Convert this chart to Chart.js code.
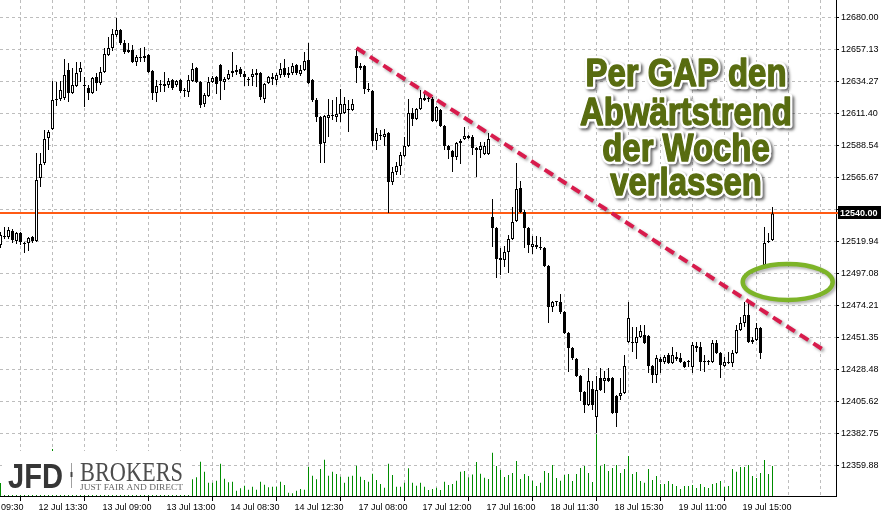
<!DOCTYPE html>
<html lang="de">
<head>
<meta charset="UTF-8">
<title>DAX M15 - Gap über den Abwärtstrend</title>
<script src="https://cdn.jsdelivr.net/npm/chart.js@4.4.1/dist/chart.umd.min.js"></script>
<style>
  body { margin: 0; background: #fff; }
  #wrap { position: relative; width: 881px; height: 516px; }
</style>
</head>
<body>
<div id="wrap"><canvas id="daxChart"></canvas></div>
<script>
// 15-Minuten-Kerzen, Index 0 = erste (angeschnittene) Kerze links
const opens = [
  12517.5, 12523.2, 12523.2, 12527.5, 12520.3, 12526.0, 12518.9, 12518.9, 12523.2, 12520.3,
  12565.3, 12576.0, 12593.9, 12600.3, 12621.1, 12621.8, 12622.5, 12642.5, 12626.1, 12631.1,
  12641.1, 12631.1, 12629.6, 12626.1, 12637.5, 12633.2, 12641.1, 12653.2, 12658.2, 12667.5,
  12671.1, 12661.8, 12656.8, 12656.8, 12648.2, 12651.8, 12651.1, 12653.2, 12641.8, 12626.1,
  12631.8, 12632.5, 12631.8, 12635.3, 12631.8, 12635.3, 12628.2, 12626.8, 12634.6, 12643.9,
  12633.9, 12618.2, 12623.9, 12633.9, 12637.5, 12646.1, 12633.9, 12636.1, 12640.3, 12642.5,
  12643.2, 12639.6, 12635.3, 12637.5, 12638.9, 12640.3, 12621.8, 12633.2, 12637.5, 12635.3,
  12638.9, 12643.9, 12640.3, 12640.3, 12646.1, 12639.6, 12642.5, 12649.6, 12635.3, 12621.1,
  12608.9, 12590.3, 12608.2, 12609.6, 12608.9, 12611.1, 12611.8, 12613.9, 12613.9, 12652.5,
  12645.3, 12645.3, 12628.9, 12627.5, 12591.8, 12595.3, 12594.6, 12597.5, 12562.5, 12569.6,
  12573.9, 12581.0, 12588.2, 12611.8, 12607.5, 12614.6, 12621.1, 12622.5, 12621.8, 12606.1,
  12613.9, 12602.5, 12588.2, 12584.6, 12580.3, 12590.3, 12593.2, 12595.3, 12594.6, 12586.8,
  12585.3, 12582.5, 12582.5, 12537.5, 12529.6, 12506.7, 12506.7, 12512.5, 12521.7, 12534.6,
  12558.2, 12541.0, 12529.6, 12516.0, 12517.5, 12516.0, 12515.3, 12502.4, 12473.2, 12476.7,
  12476.7, 12469.6, 12454.6, 12443.9, 12436.0, 12423.9, 12412.4, 12403.1, 12414.6, 12394.6,
  12422.4, 12420.3, 12422.4, 12422.4, 12409.6, 12409.6, 12411.7, 12448.1, 12448.1, 12447.4,
  12451.7, 12453.1, 12452.4, 12431.0, 12424.6, 12436.0, 12433.9, 12438.9, 12433.1, 12437.4,
  12436.7, 12433.9, 12433.9, 12430.3, 12445.3, 12444.6, 12433.9, 12433.9, 12433.9, 12447.4,
  12440.3, 12431.0, 12433.9, 12433.1, 12440.3, 12456.7, 12461.7, 12467.4, 12449.6, 12449.6,
  12458.1, 12503.2, 12519.6, 12521.0
];
const highs = [
  12526.7, 12530.3, 12530.3, 12528.9, 12526.7, 12526.7, 12519.6, 12523.2, 12523.9, 12583.2,
  12583.2, 12599.6, 12599.6, 12634.6, 12633.9, 12634.6, 12650.3, 12647.5, 12643.9, 12648.2,
  12648.2, 12637.5, 12631.8, 12637.5, 12640.3, 12644.6, 12658.2, 12666.1, 12671.8, 12679.6,
  12671.8, 12663.9, 12661.8, 12660.3, 12653.2, 12658.2, 12658.9, 12653.9, 12642.5, 12635.3,
  12635.3, 12641.1, 12636.8, 12636.1, 12635.3, 12636.1, 12629.6, 12638.9, 12647.5, 12644.6,
  12634.6, 12626.1, 12637.5, 12638.2, 12638.2, 12646.8, 12637.5, 12642.5, 12655.3, 12646.1,
  12644.6, 12641.8, 12637.5, 12643.2, 12643.2, 12641.1, 12633.2, 12638.2, 12640.3, 12640.3,
  12647.5, 12650.3, 12644.6, 12647.5, 12646.8, 12646.1, 12655.3, 12661.8, 12636.1, 12622.5,
  12609.6, 12610.3, 12621.8, 12621.1, 12623.2, 12628.9, 12623.2, 12621.1, 12621.8, 12658.2,
  12647.5, 12646.1, 12633.2, 12628.2, 12601.0, 12599.6, 12600.3, 12598.2, 12573.2, 12576.8,
  12583.9, 12594.6, 12621.8, 12615.3, 12615.3, 12628.2, 12626.1, 12623.9, 12623.2, 12616.8,
  12614.6, 12603.2, 12588.9, 12585.3, 12591.0, 12593.2, 12601.8, 12596.0, 12596.0, 12587.5,
  12591.0, 12591.0, 12597.5, 12550.3, 12530.3, 12515.3, 12516.7, 12524.6, 12544.6, 12576.0,
  12563.2, 12542.5, 12530.3, 12523.9, 12523.9, 12523.2, 12516.0, 12503.2, 12477.4, 12477.4,
  12482.4, 12470.3, 12455.3, 12444.6, 12436.7, 12424.6, 12413.1, 12429.6, 12420.3, 12423.9,
  12429.6, 12427.4, 12429.6, 12423.1, 12410.3, 12422.4, 12438.9, 12476.7, 12458.9, 12458.9,
  12460.3, 12460.3, 12453.1, 12431.7, 12438.9, 12437.4, 12438.9, 12440.3, 12444.6, 12441.0,
  12440.3, 12434.6, 12435.3, 12448.1, 12448.1, 12448.1, 12438.9, 12435.3, 12449.6, 12449.6,
  12441.0, 12437.4, 12441.0, 12442.4, 12460.3, 12466.0, 12476.7, 12476.7, 12451.7, 12461.7,
  12458.9, 12530.3, 12526.0, 12544.6
];
const lows = [
  12515.3, 12521.7, 12521.7, 12518.9, 12518.2, 12517.5, 12511.7, 12513.2, 12518.9, 12519.6,
  12558.9, 12574.6, 12585.3, 12599.6, 12616.8, 12620.3, 12621.1, 12619.6, 12625.3, 12630.3,
  12633.9, 12616.1, 12621.1, 12625.3, 12627.5, 12631.8, 12640.3, 12652.5, 12656.1, 12666.1,
  12660.3, 12653.9, 12654.6, 12647.5, 12645.3, 12648.2, 12648.2, 12640.3, 12621.1, 12619.6,
  12626.8, 12626.8, 12629.6, 12628.2, 12630.3, 12626.1, 12623.2, 12623.2, 12633.9, 12633.2,
  12615.3, 12616.1, 12623.2, 12633.2, 12625.3, 12621.1, 12628.2, 12635.3, 12637.5, 12638.9,
  12637.5, 12631.1, 12631.1, 12631.1, 12630.3, 12621.1, 12618.9, 12632.5, 12631.8, 12631.8,
  12636.8, 12637.5, 12636.8, 12638.9, 12638.9, 12638.2, 12641.8, 12632.5, 12619.6, 12605.3,
  12576.0, 12576.0, 12594.6, 12606.8, 12605.3, 12605.3, 12611.1, 12598.2, 12613.2, 12633.2,
  12642.5, 12625.3, 12626.8, 12588.2, 12585.3, 12592.5, 12588.2, 12540.3, 12560.3, 12567.5,
  12567.5, 12580.3, 12587.5, 12602.5, 12606.8, 12613.9, 12620.3, 12619.6, 12605.3, 12605.3,
  12601.8, 12585.3, 12578.9, 12569.6, 12578.2, 12575.3, 12592.5, 12593.2, 12581.8, 12566.0,
  12579.6, 12581.8, 12581.8, 12516.0, 12493.9, 12496.0, 12501.7, 12497.4, 12521.0, 12533.9,
  12540.3, 12515.3, 12511.7, 12511.0, 12514.6, 12513.9, 12501.7, 12461.7, 12469.6, 12473.9,
  12468.2, 12453.9, 12426.7, 12435.3, 12423.1, 12406.0, 12397.4, 12402.4, 12399.6, 12383.1,
  12413.1, 12411.7, 12419.6, 12396.7, 12387.4, 12406.7, 12411.0, 12447.4, 12441.0, 12436.0,
  12451.0, 12446.7, 12426.0, 12418.9, 12418.9, 12426.0, 12432.4, 12432.4, 12432.4, 12434.6,
  12433.1, 12429.6, 12430.3, 12426.0, 12441.0, 12427.4, 12426.7, 12431.7, 12433.1, 12439.6,
  12422.4, 12430.3, 12432.4, 12430.3, 12439.6, 12456.0, 12458.9, 12447.4, 12446.7, 12448.9,
  12436.0, 12500.3, 12518.9, 12520.3
];
const closes = [
  12524.6, 12523.9, 12528.2, 12521.0, 12526.0, 12519.6, 12518.2, 12522.5, 12520.3, 12563.9,
  12575.3, 12593.2, 12598.2, 12621.1, 12621.8, 12628.2, 12638.9, 12626.1, 12631.8, 12640.3,
  12643.9, 12631.1, 12626.1, 12636.8, 12633.2, 12641.1, 12653.9, 12658.2, 12668.2, 12671.1,
  12661.8, 12655.3, 12655.3, 12648.2, 12651.8, 12651.1, 12652.5, 12641.1, 12626.1, 12631.1,
  12632.5, 12631.1, 12634.6, 12629.6, 12634.6, 12627.5, 12627.5, 12635.3, 12643.2, 12633.9,
  12617.5, 12624.6, 12633.9, 12636.8, 12632.5, 12634.6, 12636.1, 12639.6, 12641.8, 12641.1,
  12639.6, 12637.5, 12635.3, 12639.6, 12640.3, 12623.2, 12632.5, 12637.5, 12636.1, 12638.9,
  12643.2, 12638.9, 12638.9, 12645.3, 12640.3, 12642.5, 12648.9, 12633.2, 12621.1, 12608.9,
  12589.6, 12609.6, 12610.3, 12610.3, 12611.1, 12618.2, 12618.2, 12613.9, 12618.2, 12643.9,
  12643.9, 12628.9, 12628.2, 12591.8, 12597.5, 12596.0, 12596.8, 12562.5, 12569.6, 12573.9,
  12581.8, 12588.2, 12611.8, 12607.5, 12614.6, 12622.5, 12622.5, 12621.8, 12606.1, 12616.1,
  12602.5, 12588.2, 12585.3, 12580.3, 12590.3, 12591.8, 12595.3, 12593.9, 12586.8, 12585.3,
  12588.2, 12588.2, 12593.2, 12529.6, 12507.4, 12508.2, 12512.5, 12521.7, 12533.9, 12557.5,
  12541.0, 12529.6, 12517.5, 12518.2, 12516.0, 12515.3, 12502.4, 12473.2, 12476.7, 12476.7,
  12469.6, 12454.6, 12443.9, 12436.7, 12423.9, 12412.4, 12403.1, 12420.3, 12403.1, 12413.8,
  12413.8, 12422.4, 12420.3, 12397.4, 12397.4, 12411.7, 12431.0, 12465.3, 12447.4, 12451.7,
  12456.0, 12447.4, 12431.0, 12424.6, 12436.7, 12433.9, 12437.4, 12433.1, 12438.9, 12436.0,
  12433.9, 12430.3, 12433.9, 12446.0, 12443.9, 12433.9, 12433.9, 12433.9, 12447.4, 12440.3,
  12431.7, 12433.9, 12433.1, 12440.3, 12456.7, 12461.7, 12467.4, 12448.1, 12448.1, 12458.1,
  12440.3, 12518.9, 12520.3, 12540.0
];
// Tick-Volumen (die ersten Balken liegen hinter dem Logo)
const volumes = [
  130, 190, 170, 210, 180, 220, 240, 200, 230, 440,
  380, 410, 300, 470, 330, 300, 360, 340, 280, 300,
  260, 310, 250, 270, 240, 280, 350, 320, 330, 360,
  310, 270, 230, 260, 220, 240, 230, 260, 300, 250,
  210, 240, 200, 220, 190, 230, 200, 240, 167, 187,
  343, 243, 133, 133, 153, 323, 173, 137, 143, 53,
  77, 103, 63, 93, 63, 143, 113, 87, 93, 93,
  143, 110, 33, 27, 53, 70, 63, 293, 203, 167,
  270, 363, 203, 243, 220, 193, 133, 193, 203, 303,
  193, 160, 143, 223, 160, 120, 83, 323, 210, 93,
  93, 133, 277, 133, 103, 133, 93, 60, 70, 83,
  60, 143, 110, 120, 153, 243, 250, 187, 215, 340,
  223, 183, 170, 433, 300, 260, 190, 210, 230, 350,
  170, 220, 200, 153, 100, 133, 250, 230, 310, 180,
  153, 210, 220, 150, 220, 280, 300, 230, 140, 617,
  300, 320, 250, 280, 310, 230, 270, 400, 220, 240,
  150, 133, 270, 160, 200, 120, 120, 150, 120, 100,
  70, 100, 100, 110, 80, 120, 90, 80, 120, 130,
  150, 90, 100, 270, 243, 290, 290, 310, 200, 180,
  230, 360, 220, 300
];

const xTickBars = [-7, 9, 25, 41, 57, 73, 89, 105, 121, 137, 153, 169, 185];
const xTickLabels = ['12 Jul 09:30', '12 Jul 13:30', '13 Jul 09:00', '13 Jul 13:00', '14 Jul 08:30',
  '14 Jul 12:30', '17 Jul 08:00', '17 Jul 12:00', '17 Jul 16:00', '18 Jul 11:30',
  '18 Jul 15:30', '19 Jul 11:00', '19 Jul 15:00'];
const yTickLabels = ['12680.00', '12657.13', '12634.27', '12611.40', '12588.54', '12565.67', '12542.80',
  '12519.94', '12497.08', '12474.21', '12451.35', '12428.48', '12405.62', '12382.75', '12359.88'];
const lastPrice = 12540.00;

// Abwärtstrendlinie der Woche (Kerzenindex / Kurs)
const trendBars = [89, 205.4];
const trendPrices = [12658.2, 12443.1];

const noteLines = ['Per GAP den', 'Abwärtstrend', 'der Woche', 'verlassen'];

const FONT = "'Liberation Sans', Arial, sans-serif";

const wickData = lows.map((l, i) => ({ x: i, y: [l, highs[i]] }));
const bodyData = opens.map((o, i) => ({ x: i, y: [o, closes[i]] }));
const bodyColors = opens.map((o, i) => closes[i] >= o ? '#ffffff' : '#000000');
const volData = volumes.map((v, i) => ({ x: i, y: v }));
const trendData = trendBars.map((b, i) => ({ x: b, y: trendPrices[i] }));

function drawFitted(ctx, text, x, y, width, font, color) {
  ctx.save();
  ctx.font = font;
  const w = ctx.measureText(text).width;
  ctx.translate(x, y);
  ctx.scale(width / w, 1);
  ctx.fillStyle = color;
  ctx.textAlign = 'left';
  ctx.textBaseline = 'alphabetic';
  ctx.fillText(text, 0, 0);
  ctx.restore();
}

const overlay = {
  id: 'overlay',
  beforeDatasetsDraw(chart) {
    // Bid-Linie
    const { ctx, chartArea: a, scales: { y } } = chart;
    const py = Math.round(y.getPixelForValue(lastPrice));
    ctx.save();
    ctx.strokeStyle = '#ff5a14';
    ctx.lineWidth = 2;
    ctx.beginPath();
    ctx.moveTo(a.left, py);
    ctx.lineTo(a.right + 2, py);
    ctx.stroke();
    ctx.restore();
  },
  beforeDatasetDraw(chart, args) {
    if (args.index === 0) {
      const ctx = chart.ctx;
      ctx.save();
      ctx.shadowColor = 'rgba(0,0,0,0.35)';
      ctx.shadowBlur = 3;
      ctx.shadowOffsetX = 2;
      ctx.shadowOffsetY = 2;
    }
  },
  afterDatasetDraw(chart, args) {
    if (args.index === 0) chart.ctx.restore();
  },
  afterDraw(chart) {
    const { ctx, chartArea: a, scales: { x, y } } = chart;

    // Gap-Markierung
    const cx = x.getPixelForValue(196.8), cy = y.getPixelForValue(12491.0);
    const rx = x.getPixelForValue(196.8 + 11.25) - cx;
    const ry = cy - y.getPixelForValue(12491.0 + 12.9);
    ctx.save();
    ctx.shadowColor = 'rgba(0,0,0,0.3)';
    ctx.shadowBlur = 3;
    ctx.shadowOffsetX = 2;
    ctx.shadowOffsetY = 2;
    ctx.strokeStyle = '#7db428';
    ctx.lineWidth = 4.5;
    ctx.beginPath();
    ctx.ellipse(cx, cy, rx, ry, 0, 0, Math.PI * 2);
    ctx.stroke();
    ctx.restore();

    // Preisschild rechts
    const py = y.getPixelForValue(lastPrice);
    ctx.save();
    ctx.fillStyle = '#000';
    ctx.fillRect(a.right + 2, Math.round(py) - 7, 43, 13);
    ctx.fillStyle = '#fff';
    ctx.font = 'bold 9px ' + FONT;
    ctx.textBaseline = 'middle';
    ctx.fillText(lastPrice.toFixed(2), a.right + 4, py);
    ctx.restore();

    // Logo
    ctx.save();
    ctx.fillStyle = '#fff';
    ctx.fillRect(2, 451, 188, 44);
    ctx.restore();
    drawFitted(ctx, 'JFD', 8, 488, 55, 'bold 35px ' + FONT, '#363636');
    ctx.save();
    ctx.fillStyle = '#a0a0a0';
    ctx.fillRect(71, 463, 1, 25);
    ctx.fillStyle = '#444';
    ctx.fillRect(70.5, 472, 2, 5);
    ctx.restore();
    drawFitted(ctx, 'BROKERS', 80, 481, 103, "27px 'Liberation Serif', serif", '#4d4d4d');
    drawFitted(ctx, 'JUST FAIR AND DIRECT', 80, 489.5, 103, "9px 'Liberation Serif', serif", '#666');

    // Kommentar
    const baselines = [86, 125, 161, 195];
    ctx.save();
    ctx.font = 'bold 38px ' + FONT;
    ctx.textAlign = 'center';
    ctx.textBaseline = 'alphabetic';
    ctx.lineJoin = 'round';
    noteLines.forEach((t, k) => {
      ctx.save();
      ctx.translate(686, baselines[k]);
      ctx.scale(0.865, 1);
      ctx.shadowColor = 'rgba(0,0,0,0.6)';
      ctx.shadowBlur = 3;
      ctx.shadowOffsetX = 2;
      ctx.shadowOffsetY = 2;
      ctx.strokeStyle = '#fff';
      ctx.lineWidth = 6.5;
      ctx.strokeText(t, 0, 0);
      ctx.shadowColor = 'rgba(0,0,0,0)';
      ctx.fillStyle = '#586c10';
      ctx.strokeStyle = '#586c10';
      ctx.lineWidth = 1.4;
      ctx.strokeText(t, 0, 0);
      ctx.fillText(t, 0, 0);
      ctx.restore();
    });
    ctx.restore();
  }
};

const zeroPad = s => { s.paddingLeft = 0; s.paddingRight = 0; s.paddingTop = 0; s.paddingBottom = 0; };

new Chart(document.getElementById('daxChart'), {
  type: 'bar',
  data: {
    datasets: [
      { type: 'line', data: trendData, borderColor: '#d81b4c', borderWidth: 4, borderDash: [10, 6],
        borderCapStyle: 'butt', pointRadius: 0, tension: 0, fill: false, order: 0, yAxisID: 'y' },
      { data: bodyData, backgroundColor: bodyColors, borderColor: '#000', borderWidth: 1,
        borderSkipped: false, barThickness: 3, minBarLength: 1, grouped: false, inflateAmount: 0,
        order: 1, yAxisID: 'y' },
      { data: wickData, backgroundColor: '#000', borderWidth: 0, barThickness: 1, grouped: false,
        inflateAmount: 0, order: 2, yAxisID: 'y' },
      { data: volData, backgroundColor: '#008c00', borderWidth: 0, barThickness: 1, grouped: false,
        inflateAmount: 0, order: 3, yAxisID: 'yv' }
    ]
  },
  options: {
    responsive: true,
    maintainAspectRatio: false,
    animation: false,
    events: [],
    layout: { padding: 0 },
    plugins: { legend: { display: false }, tooltip: { enabled: false } },
    scales: {
      x: {
        type: 'linear', min: -0.125, max: 208.875, offset: false,
        afterBuildTicks: s => {
          const t = [];
          for (let v = -7; v <= 201; v += 8) t.push({ value: v });
          s.ticks = t;
        },
        afterFit: s => { s.height = 20; zeroPad(s); },
        grid: {
          color: '#bdbdbd', lineWidth: 1, drawTicks: true, tickLength: 5, tickBorderDash: [],
          tickColor: c => (c.tick && xTickBars.includes(c.tick.value)) ? '#000' : 'rgba(0,0,0,0)'
        },
        border: { display: true, color: '#000', width: 1, dash: [3, 3] },
        ticks: {
          autoSkip: false, maxRotation: 0, align: 'start', labelOffset: 2, padding: 1, color: '#000',
          font: { family: FONT, size: 9 },
          callback: v => { const k = xTickBars.indexOf(v); return k < 0 ? '' : xTickLabels[k]; }
        }
      },
      y: {
        position: 'right', min: 12338.09, max: 12692.5,
        afterBuildTicks: s => { s.ticks = yTickLabels.map(l => ({ value: parseFloat(l) })); },
        afterFit: s => { s.width = 45; zeroPad(s); },
        grid: { color: '#bdbdbd', lineWidth: 1, tickLength: 3, tickColor: '#000', tickBorderDash: [] },
        border: { display: true, color: '#000', width: 1, dash: [3, 3] },
        ticks: {
          padding: 2, color: '#000', font: { family: FONT, size: 9 },
          callback: (v, i) => yTickLabels[i]
        }
      },
      yv: {
        display: false, min: 0, max: 4960,
        afterFit: s => { zeroPad(s); }
      }
    }
  },
  plugins: [overlay]
});
</script>
</body>
</html>
